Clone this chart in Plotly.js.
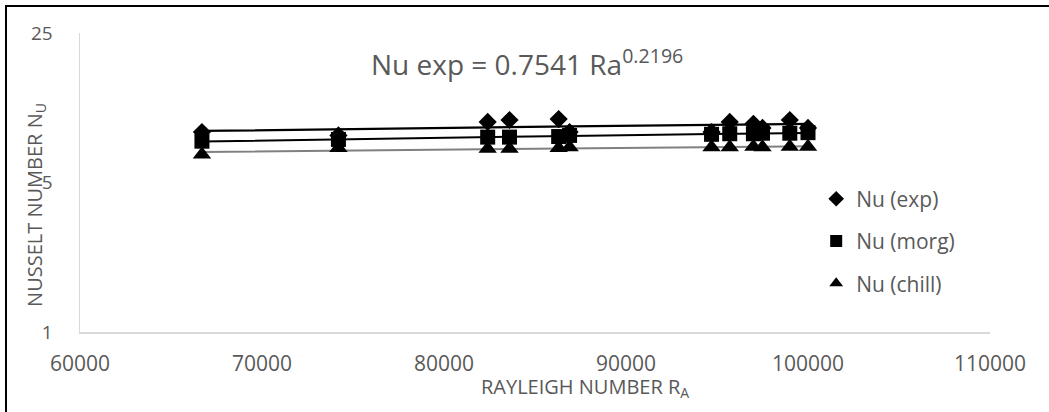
<!DOCTYPE html>
<html>
<head>
<meta charset="utf-8">
<script src="https://cdn.plot.ly/plotly-3.0.1.min.js"></script>
<style>
  html, body { margin: 0; padding: 0; background: #fff; }
  #wrap { position: relative; width: 1049px; height: 412px; overflow: hidden; }
  #chart { width: 1049px; height: 412px; }
  #frame { position: absolute; left: 5px; top: 5px; width: 1100px; height: 405px;
           border-left: 2px solid #000; border-top: 2px solid #000; border-bottom: 1px solid #d9d9d9;
           pointer-events: none; }
</style>
</head>
<body>
<div id="wrap">
  <div id="chart"></div>
  <div id="frame"></div>
</div>
<script>
// ---- data ----
const rayleigh = [66700, 74200, 82400, 83600, 86300, 86900, 94700, 95700, 97000, 97500, 99000, 100000];
const nuExp    = [8.6, 8.3, 9.6, 9.8, 9.9, 8.6, 8.6, 9.6, 9.4, 9.0, 9.8, 9.0];
const nuMorg   = [7.8, 7.95, 8.15, 8.15, 8.2, 8.3, 8.4, 8.45, 8.45, 8.5, 8.5, 8.55];
const nuChill  = [6.75, 7.25, 7.2, 7.2, 7.25, 7.3, 7.3, 7.3, 7.35, 7.3, 7.35, 7.35];
const seriesNames = ['Nu (exp)', 'Nu (morg)', 'Nu (chill)'];
const xTicks = [60000, 70000, 80000, 90000, 100000, 110000];
const yTicks = [1, 5, 25];
const equationText = 'Nu exp = 0.7541 Ra<sup>0.2196</sup>';
const xTitle = 'RAYLEIGH NUMBER R<sub>A</sub>';
const yTitle = 'NUSSELT NUMBER N<sub>U</sub>';

// power-law least squares fit (as a spreadsheet "power" trendline), evaluated at the data x values
function powerFit(xs, ys) {
  const n = xs.length;
  let sx = 0, sy = 0, sxx = 0, sxy = 0;
  for (let i = 0; i < n; i++) {
    const lx = Math.log(xs[i]), ly = Math.log(ys[i]);
    sx += lx; sy += ly; sxx += lx * lx; sxy += lx * ly;
  }
  const b = (n * sxy - sx * sy) / (n * sxx - sx * sx);
  const a = Math.exp((sy - b * sx) / n);
  const sorted = xs.slice().sort((p, q) => p - q);
  return { x: sorted, y: sorted.map(v => a * Math.pow(v, b)) };
}

const font = 'Open Sans, Liberation Sans, sans-serif';
const gray = '#595959';

const fitExp = powerFit(rayleigh, nuExp);
const fitMorg = powerFit(rayleigh, nuMorg);
const fitChill = powerFit(rayleigh, nuChill);

const traces = [
  { x: fitChill.x, y: fitChill.y, mode: 'lines', line: { color: '#808080', width: 2 }, showlegend: false, hoverinfo: 'skip' },
  { x: fitMorg.x, y: fitMorg.y, mode: 'lines', line: { color: '#000', width: 2 }, showlegend: false, hoverinfo: 'skip' },
  { x: fitExp.x, y: fitExp.y, mode: 'lines', line: { color: '#000', width: 2.25 }, showlegend: false, hoverinfo: 'skip' },
  { x: rayleigh, y: nuExp, name: seriesNames[0], legendgroup: 'a', mode: 'markers',
    marker: { symbol: 'diamond', size: 14, color: '#000' } },
  { x: rayleigh, y: nuMorg, name: seriesNames[1], legendgroup: 'b', mode: 'markers',
    marker: { symbol: 'square', size: 15, color: '#000' } },
  { x: rayleigh, y: nuChill, name: seriesNames[2], legendgroup: 'c', mode: 'markers',
    marker: { symbol: 'triangle-up', size: 16, color: '#000' } }
];

const layout = {
  width: 1049, height: 412,
  margin: { l: 80, r: 59, t: 33, b: 80, pad: 0 },
  paper_bgcolor: '#fff', plot_bgcolor: '#fff',
  font: { family: font, color: gray },
  showlegend: true,
  xaxis: {
    range: [60000, 110000], tickvals: xTicks, ticktext: xTicks.map(String),
    showgrid: false, zeroline: false, showline: true, linecolor: '#d9d9d9', linewidth: 1.5,
    ticks: '', ticklabelstandoff: 12,
    tickfont: { family: font, size: 21, color: gray }
  },
  yaxis: {
    type: 'log', range: [0, Math.log10(25)], tickvals: yTicks, ticktext: yTicks.map(String),
    showgrid: false, zeroline: false, showline: true, linecolor: '#d9d9d9', linewidth: 1.5,
    ticks: '', ticklabelstandoff: 22,
    tickfont: { family: font, size: 19, color: gray }
  },
  legend: {
    x: 0.809, xanchor: 'left', y: 0.513, yanchor: 'top',
    font: { family: font, size: 21, color: gray },
    itemsizing: 'constant', traceorder: 'grouped', tracegroupgap: 12,
    bgcolor: 'rgba(0,0,0,0)'
  },
  annotations: [
    { text: equationText, xref: 'paper', yref: 'paper', x: 0.491, y: 0.903,
      xanchor: 'center', yanchor: 'middle', showarrow: false,
      font: { family: font, size: 28, color: gray } },
    { text: xTitle, xref: 'paper', yref: 'paper', x: 0.555, y: -0.186,
      xanchor: 'center', yanchor: 'middle', showarrow: false,
      font: { family: font, size: 20, color: gray } },
    { text: yTitle, xref: 'paper', yref: 'paper', x: -0.0484, y: 0.425, textangle: -90,
      xanchor: 'center', yanchor: 'middle', showarrow: false,
      font: { family: font, size: 20, color: gray } }
  ]
};

Plotly.newPlot('chart', traces, layout, { staticPlot: true, displayModeBar: false });
</script>
</body>
</html>
